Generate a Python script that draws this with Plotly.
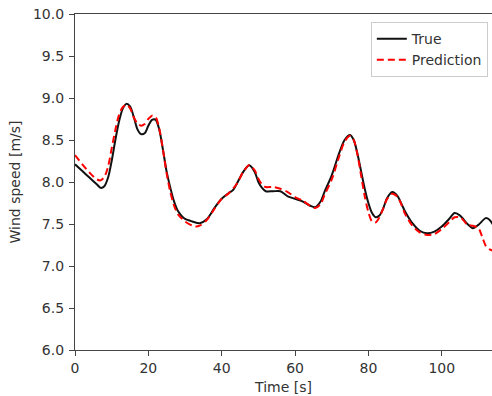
import plotly.graph_objects as go

time_true = [0, 2, 4, 6, 7, 8, 9, 10, 11, 12, 13, 14, 15, 16, 17, 18, 19, 20, 21, 22, 23, 24, 25, 26, 27, 28, 29, 30, 32, 34, 36, 38, 40, 42, 43, 44, 46, 47.5, 49, 50, 51, 52, 54, 56, 58, 60, 62, 64, 65.5, 67, 68, 70, 72, 73.5, 75, 76, 77, 78, 79, 80, 81, 82, 83, 84, 85, 86.5, 88, 89, 90, 92, 94, 96, 98, 100, 102, 103.5, 105, 107, 108.5, 110, 112, 113, 114]
wind_true = [8.21, 8.13, 8.05, 7.97, 7.93, 7.95, 8.05, 8.25, 8.5, 8.72, 8.87, 8.93, 8.90, 8.78, 8.63, 8.57, 8.58, 8.67, 8.74, 8.74, 8.62, 8.38, 8.12, 7.93, 7.77, 7.66, 7.60, 7.56, 7.53, 7.51, 7.56, 7.69, 7.80, 7.87, 7.90, 7.97, 8.13, 8.20, 8.12, 8.00, 7.93, 7.89, 7.89, 7.89, 7.83, 7.80, 7.77, 7.72, 7.70, 7.77, 7.88, 8.08, 8.34, 8.50, 8.56, 8.50, 8.34, 8.13, 7.92, 7.75, 7.63, 7.58, 7.60, 7.68, 7.80, 7.88, 7.83, 7.74, 7.65, 7.51, 7.42, 7.39, 7.41, 7.47, 7.56, 7.63, 7.60, 7.50, 7.45, 7.49, 7.57, 7.55, 7.49]

time_pred = [0, 2, 4, 6, 7, 8, 9, 10, 11, 12, 13, 14, 15, 16, 17, 18, 19, 20, 21, 22, 23, 24, 25, 26, 27, 28, 29, 30, 32, 33, 34, 36, 38, 40, 42, 44, 46, 47.5, 49, 50, 51, 52, 54, 56, 58, 60, 62, 64, 65.5, 67, 68, 70, 72, 73.5, 75, 76, 77, 78, 79, 80, 81, 82, 83, 84, 85, 86.5, 88, 89, 90, 92, 94, 96, 98, 100, 102, 103.5, 105, 106, 107, 108.5, 110, 111, 112, 113, 114]
wind_pred = [8.32, 8.21, 8.11, 8.03, 8.02, 8.06, 8.18, 8.40, 8.62, 8.80, 8.89, 8.92, 8.88, 8.77, 8.70, 8.67, 8.69, 8.75, 8.79, 8.77, 8.63, 8.38, 8.10, 7.88, 7.72, 7.62, 7.57, 7.53, 7.48, 7.47, 7.48, 7.55, 7.68, 7.80, 7.87, 7.97, 8.13, 8.20, 8.14, 8.04, 7.97, 7.94, 7.94, 7.92, 7.88, 7.82, 7.78, 7.72, 7.69, 7.74, 7.84, 8.03, 8.30, 8.48, 8.55, 8.50, 8.33, 8.08, 7.83, 7.64, 7.53, 7.52, 7.58, 7.68, 7.79, 7.86, 7.82, 7.73, 7.62, 7.48, 7.40, 7.37, 7.38, 7.44, 7.52, 7.58, 7.58, 7.54, 7.49, 7.48, 7.45, 7.35, 7.24, 7.20, 7.18]

x_ticks = [0, 20, 40, 60, 80, 100]
y_ticks = [6.0, 6.5, 7.0, 7.5, 8.0, 8.5, 9.0, 9.5, 10.0]

font = "DejaVu Sans"
txt = "#333333"

fig = go.Figure()
fig.add_trace(go.Scatter(x=time_true, y=wind_true, mode="lines", name="True",
                         line=dict(color="#111111", width=2, shape="spline", smoothing=0.8)))
fig.add_trace(go.Scatter(x=time_pred, y=wind_pred, mode="lines", name="Prediction",
                         line=dict(color="#ff0000", width=2, dash="7px,4px", shape="spline", smoothing=0.8)))

fig.update_layout(
    width=492, height=396,
    margin=dict(l=75, r=0, t=14, b=46, autoexpand=False),
    paper_bgcolor="white", plot_bgcolor="white",
    font=dict(family=font, size=14, color=txt),
    showlegend=True,
    legend=dict(x=0.99, y=0.976, xanchor="right", yanchor="top",
                bgcolor="rgba(255,255,255,0.9)", bordercolor="#cccccc", borderwidth=1,
                font=dict(family=font, size=14, color=txt),
                tracegroupgap=0, itemwidth=30),
)
fig.update_xaxes(range=[0, 113.7], tickvals=x_ticks, ticktext=[str(v) for v in x_ticks],
                 showgrid=False, zeroline=False, showline=True, linecolor="#444444", linewidth=1.3,
                 mirror=True, ticks="outside", ticklen=5, tickwidth=1.2, tickcolor="#444444",
                 title=dict(text="Time [s]", standoff=7, font=dict(size=14, color=txt)),
                 tickfont=dict(size=14, color=txt))
fig.update_yaxes(range=[6.0, 10.0], tickvals=y_ticks, ticktext=[f"{v:.1f}" for v in y_ticks],
                 showgrid=False, zeroline=False, showline=True, linecolor="#444444", linewidth=1.3,
                 mirror=False, ticks="outside", ticklen=5, tickwidth=1.2, tickcolor="#444444",
                 title=dict(text="Wind speed [m/s]", standoff=8, font=dict(size=14, color=txt)),
                 tickfont=dict(size=14, color=txt), ticklabelstandoff=2)

fig.write_html("out.html", config={"displayModeBar": False},
               post_script="document.body.style.margin='0';document.body.style.overflow='hidden';")
